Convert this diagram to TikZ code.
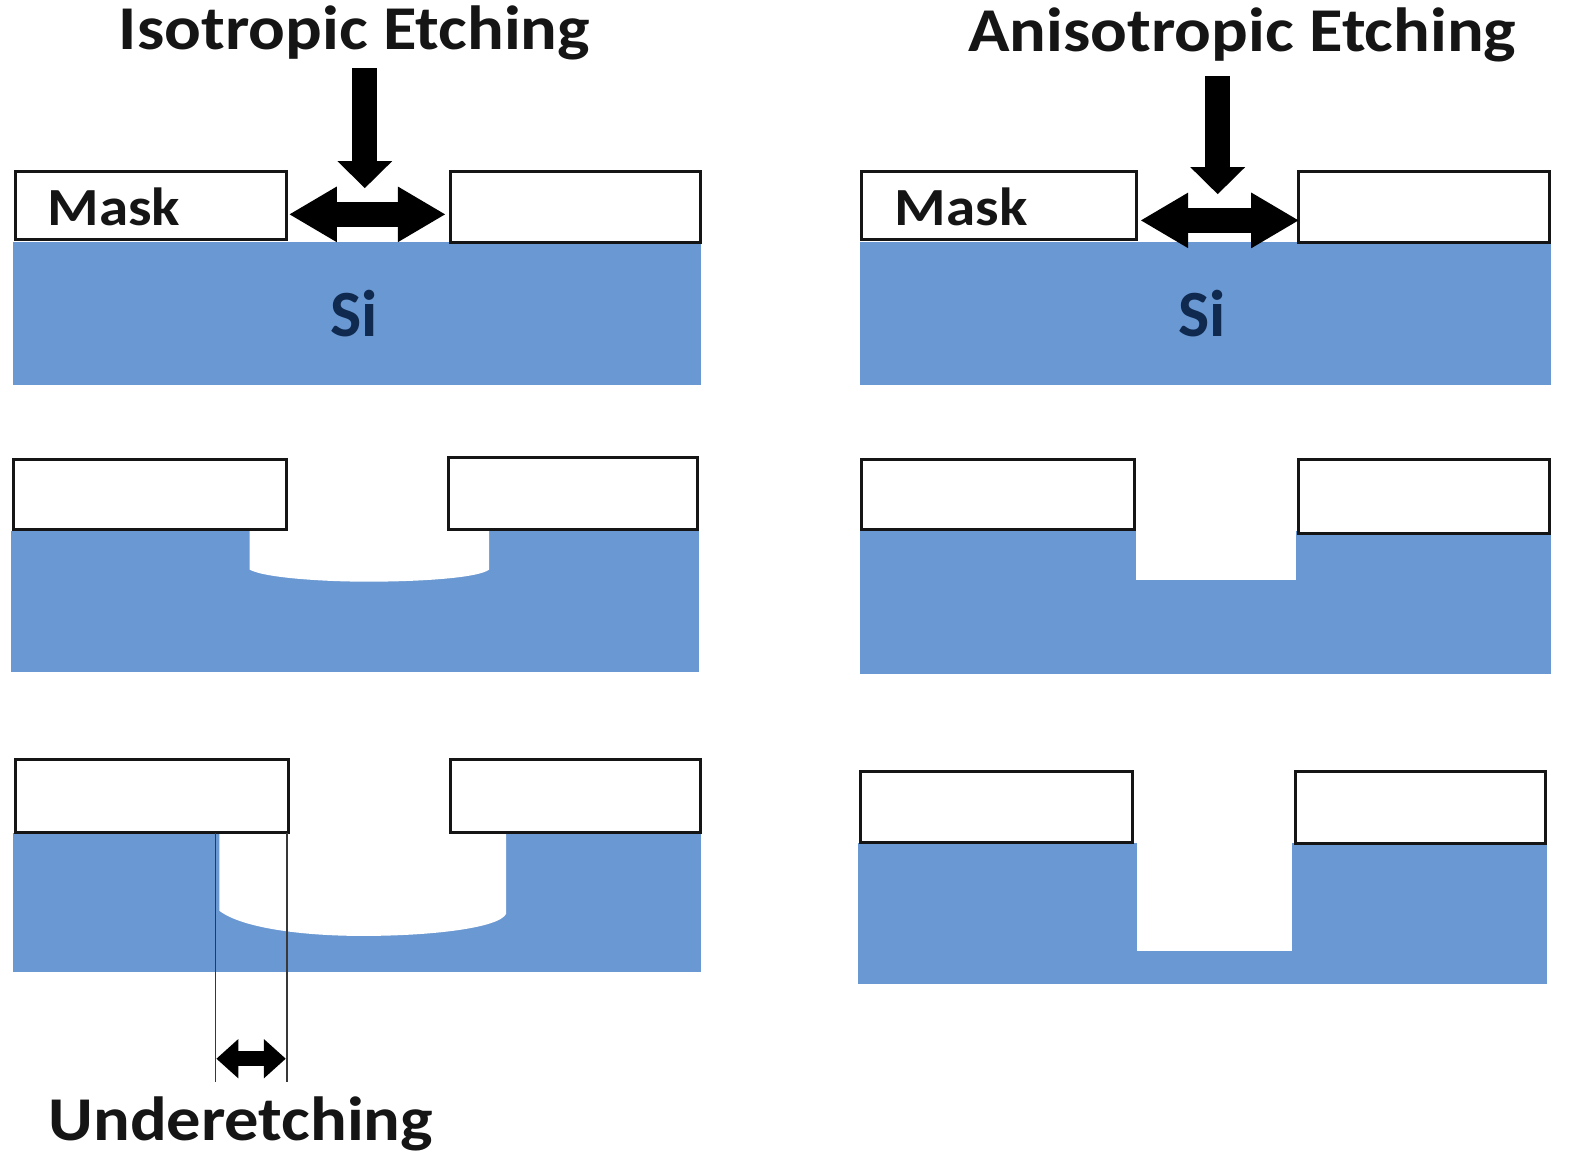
\documentclass[tikz,border=0pt]{standalone}
\usepackage{fontspec}
\setmainfont{Carlito}
\usetikzlibrary{arrows.meta}
\definecolor{siblue}{HTML}{6A98D2}
\definecolor{sinavy}{HTML}{10294F}
\definecolor{inkc}{HTML}{151515}
\newcommand{\squat}[1]{\scalebox{1}[0.91]{#1}}
\tikzset{
  sibody/.style={fill=siblue,draw=none},
  cavity/.style={fill=white,draw=none},
  maskbar/.style={fill=white,draw=inkc,line width=3pt,line join=miter},
  title/.style={inner sep=0pt,anchor=base west,font=\bfseries\fontsize{68.5}{68.5}\selectfont,text=inkc},
  masklabel/.style={inner sep=0pt,anchor=base west,font=\bfseries\fontsize{59}{59}\selectfont,text=inkc},
  silabel/.style={inner sep=0pt,anchor=base west,font=\bfseries\fontsize{66}{66}\selectfont,text=sinavy},
  downarrow/.style={draw=black,line width=25pt,-{Triangle[length=27pt,width=53pt,fill=black]}},
  widearrow/.style={draw=black,line width=25pt,{Triangle[length=48pt,width=52pt,fill=black]}-{Triangle[length=48pt,width=52pt,fill=black]}},
  smallarrow/.style={draw=black,line width=15pt,{Triangle[length=22pt,width=38pt,fill=black]}-{Triangle[length=22pt,width=38pt,fill=black]}},
  guide/.style={draw=inkc!85,line width=1.4pt}
}
\begin{document}
\begin{tikzpicture}[x=1.00638pt,y=-1.00638pt]
\useasboundingbox (0,0) rectangle (1568,1150.7);
% ---- substrates
\fill[sibody] (13,240) rectangle (697,383);
\fill[sibody] (11,528) rectangle (695,668);
\fill[sibody] (13,828) rectangle (697,966);
\fill[sibody] (855,240) rectangle (1541,383);
\fill[sibody] (855,528) rectangle (1541,670);
\fill[sibody] (853,838) rectangle (1537,978);
% ---- etched cavities
\fill[cavity] (248,526) -- (248,566) .. controls (262,574) and (320,578) .. (365,578) .. controls (420,578) and (476,574) .. (486,566) -- (486,526) -- cycle;
\fill[cavity] (218,826) -- (218,905) .. controls (240,922) and (300,930) .. (360,930) .. controls (430,930) and (496,922) .. (503,908) -- (503,826) -- cycle;
\fill[cavity] (1129,526) rectangle (1288,576);
\fill[cavity] (1130,836) rectangle (1284,945);
% ---- masks
\draw[maskbar] (15,170) rectangle (285,238);
\draw[maskbar] (448,170) rectangle (696,241);
\draw[maskbar] (13,457) rectangle (285,526);
\draw[maskbar] (446,455) rectangle (693,526);
\draw[maskbar] (15,755) rectangle (287,827);
\draw[maskbar] (448,755) rectangle (696,827);
\draw[maskbar] (856,170) rectangle (1129,238);
\draw[maskbar] (1290,170) rectangle (1540,241);
\draw[maskbar] (856,457) rectangle (1127,526);
\draw[maskbar] (1290,457) rectangle (1540,530);
\draw[maskbar] (855,767) rectangle (1125,837);
\draw[maskbar] (1287,767) rectangle (1536,838);
% ---- arrows
\coordinate (a1s) at (362.5,68);   \coordinate (a1e) at (362.5,187);
\coordinate (b1s) at (287,213);    \coordinate (b1e) at (443,213);
\coordinate (a2s) at (1210,76);    \coordinate (a2e) at (1210,193);
\coordinate (b2s) at (1133,219);   \coordinate (b2e) at (1291,219);
\coordinate (u1s) at (215,1052);   \coordinate (u1e) at (284,1052);
\coordinate (g1a) at (214,828);    \coordinate (g1b) at (214,1075);
\coordinate (g2a) at (285,828);    \coordinate (g2b) at (285,1075);
\draw[downarrow] (a1s) -- (a1e);
\draw[widearrow] (b1s) -- (b1e);
\draw[downarrow] (a2s) -- (a2e);
\draw[widearrow] (b2s) -- (b2e);
\draw[guide] (g1a) -- (g1b);
\draw[guide] (g2a) -- (g2b);
\draw[smallarrow] (u1s) -- (u1e);
% ---- labels
\node[title] (t1) at (118,49) {\squat{Isotropic Etching}};
\node[title] (t2) at (962,51) {\squat{Anisotropic Etching}};
\node[title] (t3) at (48,1133) {\squat{Underetching}};
\node[masklabel] (m1) at (47,224) {\squat{Mask}};
\node[masklabel] (m2) at (889,224) {\squat{Mask}};
\node[silabel] (s1) at (328,334) {Si};
\node[silabel] (s2) at (1171,334) {Si};
\end{tikzpicture}
\end{document}
